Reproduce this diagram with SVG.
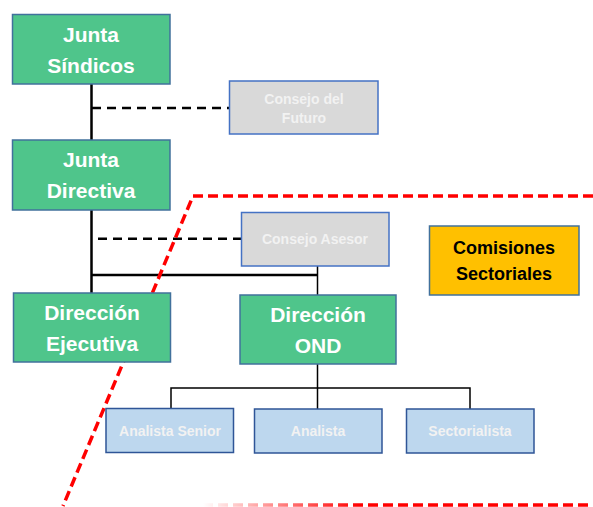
<svg xmlns="http://www.w3.org/2000/svg" width="593" height="507" viewBox="0 0 593 507">
<style>
.green{fill:#4FC58B;stroke:#41719C;stroke-width:1.5}
.gray{fill:#D9D9D9;stroke:#4472C4;stroke-width:1.5}
.blue{fill:#BDD7EE;stroke:#2F5597;stroke-width:1.5}
.orange{fill:#FFC000;stroke:#41719C;stroke-width:1.5}
.big{font-family:"Liberation Sans",Arial,sans-serif;font-weight:bold;font-size:21px;fill:#FFFFFF;text-anchor:middle}
.small{font-family:"Liberation Sans",Arial,sans-serif;font-weight:bold;font-size:14px;fill:#F2F2F2;text-anchor:middle}
.dark{font-family:"Liberation Sans",Arial,sans-serif;font-weight:bold;font-size:18px;fill:#000000;text-anchor:middle}
.solid{stroke:#000;fill:none}
.dash{stroke:#000;stroke-width:2.5;stroke-dasharray:9,6;fill:none}
.red{stroke:#FF0000;stroke-width:3.5;stroke-dasharray:10,5;fill:none}
</style>
<defs>
<linearGradient id="fade" gradientUnits="userSpaceOnUse" x1="203" y1="0" x2="360" y2="0">
<stop offset="0" stop-color="#FF0000" stop-opacity="0"/>
<stop offset="1" stop-color="#FF0000" stop-opacity="1"/>
</linearGradient>
</defs>
<g id="connectors">
<path class="solid" stroke-width="2.5" d="M91.5,84 V140 M91.5,210 V293 M91.5,275 H317.5"/>
<path class="solid" stroke-width="1.5" d="M317.5,266 V295 M317.5,364 V409 M171,408.5 V388 H470 V409"/>
<path class="dash" d="M92,108 H229.5"/>
<path class="dash" d="M98,238.7 H241.5"/>
</g>
<g id="boundary">
<path class="red" d="M593,196 H193 L63,506"/>
<path d="M203,505 H593" stroke="url(#fade)" stroke-width="3.5" stroke-dasharray="10,5" fill="none"/>
</g>
<g id="junta-sindicos">
<rect class="green" x="12.5" y="14.5" width="157.5" height="69.5"/>
<text class="big" x="91" y="42.3">Junta</text>
<text class="big" x="91" y="73.3">Síndicos</text>
</g>
<g id="consejo-futuro">
<rect class="gray" x="229.5" y="81" width="148.5" height="53"/>
<text class="small" x="304" y="104.3">Consejo del</text>
<text class="small" x="304" y="123.3">Futuro</text>
</g>
<g id="junta-directiva">
<rect class="green" x="12.5" y="140" width="157.5" height="70"/>
<text class="big" x="91" y="166.7">Junta</text>
<text class="big" x="91" y="197.7">Directiva</text>
</g>
<g id="consejo-asesor">
<rect class="gray" x="241.5" y="212.5" width="147.5" height="53.5"/>
<text class="small" x="315" y="244.3">Consejo Asesor</text>
</g>
<g id="comisiones-sectoriales">
<rect class="orange" x="429.5" y="226" width="149.5" height="69"/>
<text class="dark" x="504" y="254">Comisiones</text>
<text class="dark" x="504" y="280">Sectoriales</text>
</g>
<g id="direccion-ejecutiva">
<rect class="green" x="13.5" y="293" width="157" height="69"/>
<text class="big" x="92" y="319.5">Dirección</text>
<text class="big" x="92" y="350.5">Ejecutiva</text>
</g>
<g id="direccion-ond">
<rect class="green" x="240" y="295" width="156" height="69"/>
<text class="big" x="318" y="321.7">Dirección</text>
<text class="big" x="318" y="352.7">OND</text>
</g>
<g id="analista-senior">
<rect class="blue" x="106" y="408.5" width="127.5" height="44"/>
<text class="small" x="170" y="435.6">Analista Senior</text>
</g>
<g id="analista">
<rect class="blue" x="254.5" y="409" width="127.5" height="44"/>
<text class="small" x="318" y="435.6">Analista</text>
</g>
<g id="sectorialista">
<rect class="blue" x="406.5" y="409" width="127.5" height="44"/>
<text class="small" x="470" y="435.6">Sectorialista</text>
</g>
</svg>
